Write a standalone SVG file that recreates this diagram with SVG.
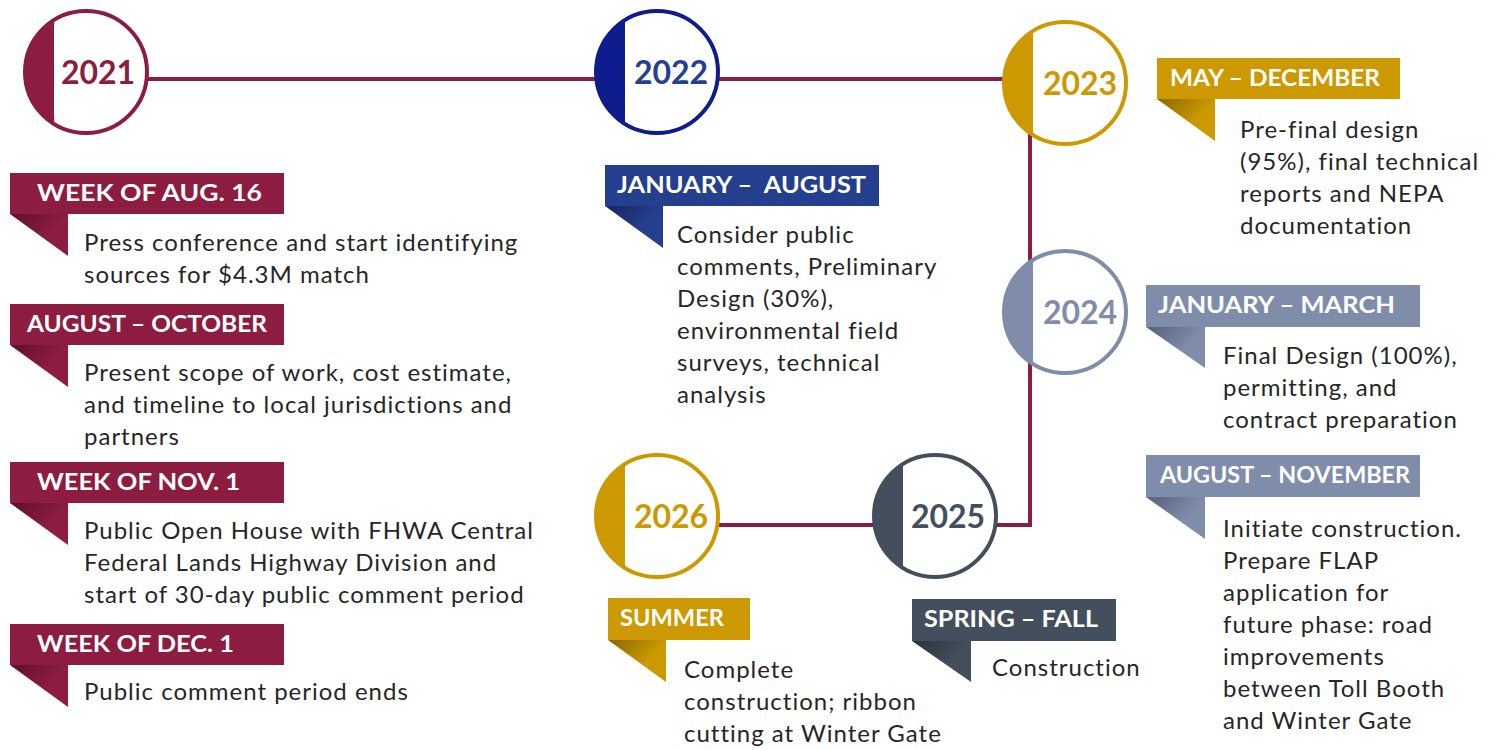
<svg xmlns="http://www.w3.org/2000/svg" width="1502" height="750" viewBox="0 0 1502 750">
<style>
.ring{fill:#fff;stroke-width:4}
.yr{font-family:"Lato","Liberation Sans",sans-serif;font-weight:bold;font-size:32px;text-anchor:middle}
.tag{font-family:"Lato","Liberation Sans",sans-serif;font-weight:bold;font-size:22px;fill:#fff;white-space:pre}
.body{font-family:"Lato","Liberation Sans",sans-serif;font-size:24px;letter-spacing:1px;fill:#262626}
.conn{stroke:#8C1D40;stroke-width:4;fill:none}
</style>
<defs>
<linearGradient id="gM" x1="0" y1="0" x2="1" y2="0.7"><stop offset="0" stop-color="#5E1029"/><stop offset="0.7" stop-color="#8C1D40"/></linearGradient>
<linearGradient id="gB" x1="0" y1="0" x2="1" y2="0.7"><stop offset="0" stop-color="#16275E"/><stop offset="0.7" stop-color="#253F8F"/></linearGradient>
<linearGradient id="gG" x1="0" y1="0" x2="1" y2="0.7"><stop offset="0" stop-color="#8A6700"/><stop offset="0.7" stop-color="#CC9900"/></linearGradient>
<linearGradient id="gS" x1="0" y1="0" x2="1" y2="0.7"><stop offset="0" stop-color="#55607A"/><stop offset="0.7" stop-color="#7F8DAA"/></linearGradient>
<linearGradient id="gD" x1="0" y1="0" x2="1" y2="0.7"><stop offset="0" stop-color="#2A323B"/><stop offset="0.7" stop-color="#434F5C"/></linearGradient>
</defs>

<g id="connectors">
<line class="conn" x1="146" y1="79" x2="596" y2="79"/>
<line class="conn" x1="718" y1="79" x2="1005" y2="79"/>
<polyline class="conn" points="1030,120 1030,525 996,525"/>
<line class="conn" x1="718" y1="525" x2="874" y2="525"/>
</g>

<g id="y2021">
<circle class="ring" cx="86" cy="72" r="61" stroke="#8C1D40"/>
<path d="M54,20 A61 61 0 0 0 54,124 Z" fill="#8C1D40"/>
<text class="yr" x="98" y="84" fill="#8C1D40">2021</text>
</g>
<g id="y2022">
<circle class="ring" cx="657" cy="72" r="61" stroke="#0F1C8E"/>
<path d="M625,20 A61 61 0 0 0 625,124 Z" fill="#0F1C8E"/>
<text class="yr" x="671" y="84" fill="#24408E">2022</text>
</g>
<g id="y2023">
<circle class="ring" cx="1065" cy="83" r="61" stroke="#CC9900"/>
<path d="M1033,31 A61 61 0 0 0 1033,135 Z" fill="#CC9900"/>
<text class="yr" x="1080" y="95" fill="#CC9900">2023</text>
</g>
<g id="y2024">
<circle class="ring" cx="1065" cy="312" r="61" stroke="#7F8DAA"/>
<path d="M1033,260 A61 61 0 0 0 1033,364 Z" fill="#7F8DAA"/>
<text class="yr" x="1080" y="324" fill="#7F8DAA">2024</text>
</g>
<g id="y2025">
<circle class="ring" cx="935" cy="516" r="61" stroke="#434F5C"/>
<path d="M903,464 A61 61 0 0 0 903,568 Z" fill="#434F5C"/>
<text class="yr" x="948" y="528" fill="#434F5C">2025</text>
</g>
<g id="y2026">
<circle class="ring" cx="657" cy="516" r="61" stroke="#CC9900"/>
<path d="M625,464 A61 61 0 0 0 625,568 Z" fill="#CC9900"/>
<text class="yr" x="671" y="528" fill="#CC9900">2026</text>
</g>

<g id="t-aug16">
<rect x="10" y="173" width="274" height="41" fill="#8C1D40"/>
<polygon points="10,214 68,214 68,256" fill="url(#gM)"/>
<text class="tag" x="37" y="201" textLength="225" lengthAdjust="spacingAndGlyphs">WEEK OF AUG. 16</text>
<text class="body" x="84" y="251">Press conference and start identifying</text>
<text class="body" x="84" y="283">sources for $4.3M match</text>
</g>
<g id="t-augoct">
<rect x="10" y="304" width="274" height="41" fill="#8C1D40"/>
<polygon points="10,345 68,345 68,387" fill="url(#gM)"/>
<text class="tag" x="27" y="332" textLength="240" lengthAdjust="spacingAndGlyphs">AUGUST – OCTOBER</text>
<text class="body" x="84" y="381">Present scope of work, cost estimate,</text>
<text class="body" x="84" y="413">and timeline to local jurisdictions and</text>
<text class="body" x="84" y="445">partners</text>
</g>
<g id="t-nov1">
<rect x="10" y="462" width="274" height="41" fill="#8C1D40"/>
<polygon points="10,503 68,503 68,545" fill="url(#gM)"/>
<text class="tag" x="37" y="490" textLength="203" lengthAdjust="spacingAndGlyphs">WEEK OF NOV. 1</text>
<text class="body" x="84" y="539">Public Open House with FHWA Central</text>
<text class="body" x="84" y="571">Federal Lands Highway Division and</text>
<text class="body" x="84" y="603">start of 30-day public comment period</text>
</g>
<g id="t-dec1">
<rect x="10" y="624" width="274" height="41" fill="#8C1D40"/>
<polygon points="10,665 68,665 68,707" fill="url(#gM)"/>
<text class="tag" x="37" y="652" textLength="197" lengthAdjust="spacingAndGlyphs">WEEK OF DEC. 1</text>
<text class="body" x="84" y="700">Public comment period ends</text>
</g>

<g id="t-janaug">
<rect x="605" y="165" width="274" height="41" fill="#253F8F"/>
<polygon points="605,206 663,206 663,248" fill="url(#gB)"/>
<text class="tag" x="617" y="193" textLength="249" lengthAdjust="spacingAndGlyphs">JANUARY –  AUGUST</text>
<text class="body" x="677" y="243">Consider public</text>
<text class="body" x="677" y="275">comments, Preliminary</text>
<text class="body" x="677" y="307">Design (30%),</text>
<text class="body" x="677" y="339">environmental field</text>
<text class="body" x="677" y="371">surveys, technical</text>
<text class="body" x="677" y="403">analysis</text>
</g>

<g id="t-maydec">
<rect x="1157" y="58" width="243" height="41" fill="#CC9900"/>
<polygon points="1157,99 1215,99 1215,141" fill="url(#gG)"/>
<text class="tag" x="1170" y="86" textLength="210" lengthAdjust="spacingAndGlyphs">MAY – DECEMBER</text>
<text class="body" x="1240" y="138">Pre-final design</text>
<text class="body" x="1240" y="170">(95%), final technical</text>
<text class="body" x="1240" y="202">reports and NEPA</text>
<text class="body" x="1240" y="234">documentation</text>
</g>

<g id="t-janmar">
<rect x="1146" y="285" width="274" height="42" fill="#7F8DAA"/>
<polygon points="1146,327 1205,327 1205,368" fill="url(#gS)"/>
<text class="tag" x="1158" y="313" textLength="237" lengthAdjust="spacingAndGlyphs">JANUARY – MARCH</text>
<text class="body" x="1223" y="364">Final Design (100%),</text>
<text class="body" x="1223" y="396">permitting, and</text>
<text class="body" x="1223" y="428">contract preparation</text>
</g>

<g id="t-augnov">
<rect x="1146" y="455" width="274" height="42" fill="#7F8DAA"/>
<polygon points="1146,497 1205,497 1205,539" fill="url(#gS)"/>
<text class="tag" x="1160" y="483" textLength="250" lengthAdjust="spacingAndGlyphs">AUGUST – NOVEMBER</text>
<text class="body" x="1223" y="537">Initiate construction.</text>
<text class="body" x="1223" y="569">Prepare FLAP</text>
<text class="body" x="1223" y="601">application for</text>
<text class="body" x="1223" y="633">future phase: road</text>
<text class="body" x="1223" y="665">improvements</text>
<text class="body" x="1223" y="697">between Toll Booth</text>
<text class="body" x="1223" y="729">and Winter Gate</text>
</g>

<g id="t-summer">
<rect x="608" y="598" width="142" height="42" fill="#CC9900"/>
<polygon points="608,640 666,640 666,682" fill="url(#gG)"/>
<text class="tag" x="620" y="626" textLength="104" lengthAdjust="spacingAndGlyphs">SUMMER</text>
<text class="body" x="684" y="678">Complete</text>
<text class="body" x="684" y="710">construction; ribbon</text>
<text class="body" x="684" y="742">cutting at Winter Gate</text>
</g>

<g id="t-springfall">
<rect x="912" y="599" width="204" height="42" fill="#434F5C"/>
<polygon points="912,641 971,641 971,682" fill="url(#gD)"/>
<text class="tag" x="924" y="627" textLength="174" lengthAdjust="spacingAndGlyphs">SPRING – FALL</text>
<text class="body" x="992" y="676">Construction</text>
</g>
</svg>
